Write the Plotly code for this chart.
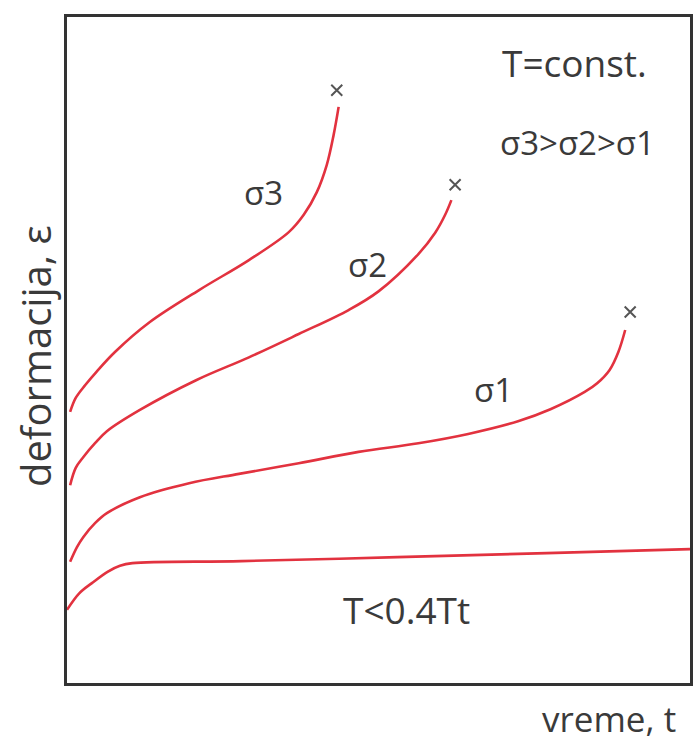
import plotly.graph_objects as go

# Creep curves: strain vs. time at constant temperature for three stress levels,
# plus the low-temperature (T < 0.4 Tt) curve that levels off.

# time axis (arbitrary units, 0..100) and strain (arbitrary units, 0..100)
t_low = [0, 2, 4, 6.5, 8.5, 10.5, 28, 53, 77, 100]
eps_low = [11, 13.5, 15, 16.7, 17.6, 18, 18.3, 18.9, 19.5, 20.1]

t_s1 = [0.5, 1.6, 2.6, 4.5, 6.4, 11.7, 19.6, 27.6, 37.2, 46.8, 56.4, 64.4, 72.4, 77.6, 83.1, 85.1, 87.1, 88.5, 89.6]
eps_s1 = [18.2, 20.4, 21.9, 24.0, 25.5, 27.9, 30.0, 31.4, 33.0, 34.7, 36.0, 37.4, 39.3, 41.1, 43.7, 45.0, 47.0, 49.7, 53.0]

t_s2 = [0.5, 1.4, 2.6, 4.5, 6.4, 11.7, 20.8, 29.2, 37.2, 45.2, 50.0, 56.4, 59.1, 60.7, 61.7]
eps_s2 = [29.7, 32.3, 33.9, 36.0, 37.8, 41.0, 45.5, 48.9, 52.4, 56.0, 58.8, 64.4, 67.6, 70.3, 72.5]

t_s3 = [0.5, 1.4, 2.9, 4.8, 7.7, 13.3, 21.2, 29.2, 35.6, 38.0, 40.1, 41.7, 42.8, 43.6]
eps_s3 = [40.7, 42.8, 44.7, 46.8, 49.7, 54.2, 59.0, 63.5, 67.7, 70.3, 73.7, 77.8, 82.3, 86.5]

# rupture points (marked with x)
t_rupture = [90.4, 62.3, 43.3]
eps_rupture = [55.7, 74.8, 89.0]

# curve labels
label_text = ["σ3", "σ2", "σ1"]
label_t = [31.6, 48.2, 68.4]
label_eps = [73.6, 62.8, 44.0]

RED = "#e2323f"
INK = "#3a3a3a"
FONT = "Open Sans"

fig = go.Figure()

for tx, ey in [(t_low, eps_low), (t_s1, eps_s1), (t_s2, eps_s2), (t_s3, eps_s3)]:
    fig.add_trace(go.Scatter(
        x=tx, y=ey, mode="lines",
        line=dict(color=RED, width=2.6, shape="spline", smoothing=1.0),
        hoverinfo="skip", showlegend=False,
    ))

fig.add_trace(go.Scatter(
    x=t_rupture, y=eps_rupture, mode="markers",
    marker=dict(symbol="x-thin", size=11, line=dict(color="#555555", width=2)),
    hoverinfo="skip", showlegend=False,
))

for txt, tx, ey in zip(label_text, label_t, label_eps):
    fig.add_annotation(x=tx, y=ey, text=txt, showarrow=False,
                       font=dict(family=FONT, size=33, color=INK))

fig.add_annotation(x=81.5, y=93.1, text="T=const.", showarrow=False,
                   font=dict(family=FONT, size=37, color=INK))
fig.add_annotation(x=81.9, y=81.1, text="σ3&gt;σ2&gt;σ1", showarrow=False,
                   font=dict(family=FONT, size=33, color=INK))
fig.add_annotation(x=54.5, y=11.0, text="T&lt;0.4Tt", showarrow=False,
                   font=dict(family=FONT, size=37, color=INK))

# axis titles
fig.add_annotation(xref="paper", yref="paper", x=-0.051, y=0.49,
                   xanchor="center", yanchor="middle",
                   text="deformacija, ε", textangle=-90, showarrow=False,
                   font=dict(family=FONT, size=40, color=INK))
fig.add_annotation(xref="paper", yref="paper", x=0.87, y=-0.053,
                   xanchor="center", yanchor="middle",
                   text="vreme, t", showarrow=False,
                   font=dict(family=FONT, size=35, color=INK))

axis_style = dict(showgrid=False, zeroline=False, showticklabels=False, ticks="",
                  showline=True, linecolor="#333333", linewidth=2.5, mirror=True,
                  fixedrange=True)
fig.update_xaxes(range=[0, 100], **axis_style)
fig.update_yaxes(range=[0, 100], **axis_style)

fig.update_layout(
    width=698, height=741,
    margin=dict(l=67, r=5, t=17, b=58),
    paper_bgcolor="white", plot_bgcolor="white",
)

fig.write_html("out.html")
